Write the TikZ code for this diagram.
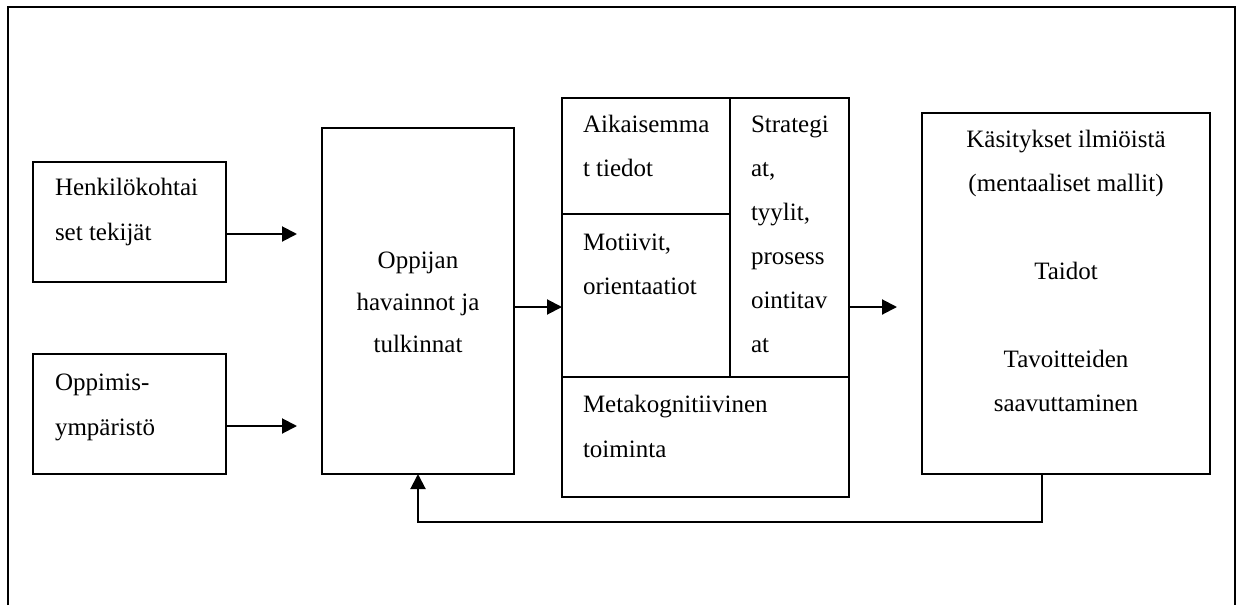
\documentclass[tikz,border=0pt]{standalone}
\usepackage{fontspec}
\setmainfont{Liberation Serif}
\usetikzlibrary{arrows.meta}
\begin{document}
\begin{tikzpicture}[x=1pt,y=-1pt,
  box/.style={draw, line width=2pt, rectangle, inner sep=0pt, outer sep=0pt},
  lbl/.style={font=\fontsize{25}{30}\selectfont, inner sep=0pt, outer sep=0pt},
  arr/.style={line width=2pt, -{Triangle[length=15pt,width=15pt]}},
  frame/.style={line width=2.2pt}]
\useasboundingbox (0,0) rectangle (1242,605);

% open frame round the model
\draw[frame] (8,605) -- (8,7) -- (1235,7) -- (1235,605);

% input boxes
\node[box, minimum width=193pt, minimum height=120pt] (boxA) at (129.5,222) {};
\node[box, minimum width=193pt, minimum height=120pt] (boxB) at (129.5,414) {};
\node[lbl, anchor=base west] (tA1) at (55,195) {Henkilökohtai};
\node[lbl, anchor=base west] (tA2) at (55,240) {set tekijät};
\node[lbl, anchor=base west] (tB1) at (55,390) {Oppimis-};
\node[lbl, anchor=base west] (tB2) at (55,435) {ympäristö};

% learner's perceptions
\node[box, minimum width=192pt, minimum height=346pt] (boxC) at (418,301) {};
\node[lbl, anchor=base] (tC1) at (418,268) {Oppijan};
\node[lbl, anchor=base] (tC2) at (418,310) {havainnot ja};
\node[lbl, anchor=base] (tC3) at (418,352) {tulkinnat};

% composite block of learner factors
\node[box, minimum width=168pt, minimum height=116pt] (cell1) at (646,156) {};
\node[box, minimum width=168pt, minimum height=163pt] (cell2) at (646,295.5) {};
\node[box, minimum width=119pt, minimum height=279pt] (cell3) at (789.5,237.5) {};
\node[box, minimum width=287pt, minimum height=120pt] (cell4) at (705.5,437) {};
\node[lbl, anchor=base west] (t11) at (583,132) {Aikaisemma};
\node[lbl, anchor=base west] (t12) at (583,176) {t tiedot};
\node[lbl, anchor=base west] (t21) at (583,250) {Motiivit,};
\node[lbl, anchor=base west] (t22) at (583,294) {orientaatiot};
\node[lbl, anchor=base west] (t31) at (751,132) {Strategi};
\node[lbl, anchor=base west] (t32) at (751,176) {at,};
\node[lbl, anchor=base west] (t33) at (751,220) {tyylit,};
\node[lbl, anchor=base west] (t34) at (751,264) {prosess};
\node[lbl, anchor=base west] (t35) at (751,308) {ointitav};
\node[lbl, anchor=base west] (t36) at (751,352) {at};
\node[lbl, anchor=base west] (t41) at (583,412) {Metakognitiivinen};
\node[lbl, anchor=base west] (t42) at (583,457) {toiminta};

% outcomes
\node[box, minimum width=288pt, minimum height=361pt] (boxR) at (1066,293.5) {};
\node[lbl, anchor=base] (tR1) at (1066,147) {Käsitykset ilmiöistä};
\node[lbl, anchor=base] (tR2) at (1066,191) {(mentaaliset mallit)};
\node[lbl, anchor=base] (tR3) at (1066,279) {Taidot};
\node[lbl, anchor=base] (tR4) at (1066,367) {Tavoitteiden};
\node[lbl, anchor=base] (tR5) at (1066,411) {saavuttaminen};

% arrow ends and routing points
\coordinate (tipA) at (297,234);
\coordinate (tipB) at (297,426);
\coordinate (flow) at (540,307);
\coordinate (tipR) at (897,307);
\coordinate (fbx) at (1042,522);

% connectors
\draw[arr] (boxA.east |- tipA) -- (tipA);
\draw[arr] (boxB.east |- tipB) -- (tipB);
\draw[arr] (boxC.east |- flow) -- (cell2.west |- flow);
\draw[arr] (cell3.east |- tipR) -- (tipR);
\draw[arr] (boxR.south -| fbx) -- (fbx) -- (fbx -| boxC.south) -- (boxC.south);
\end{tikzpicture}
\end{document}
